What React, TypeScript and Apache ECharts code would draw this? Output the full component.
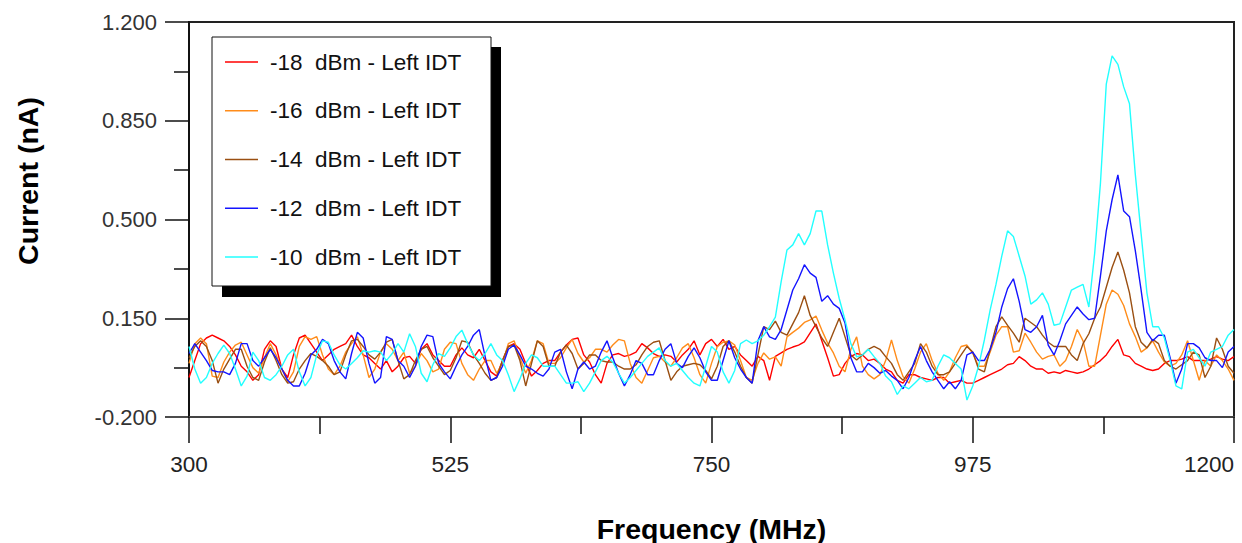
import React, { useEffect, useRef } from "react";
import * as echarts from "echarts";

// Frequency sweep (MHz), 5 MHz step
const FREQ: number[] = Array.from({ length: 181 }, (_, i) => 300 + 5 * i);

const SERIES_NAMES = [
  "-18  dBm - Left IDT",
  "-16  dBm - Left IDT",
  "-14  dBm - Left IDT",
  "-12  dBm - Left IDT",
  "-10  dBm - Left IDT",
];
const SERIES_COLORS = ["#ff0000", "#ff8c1a", "#9a4f12", "#1414ff", "#22ffff"];

const X_TICKS = [300, 525, 750, 975, 1200];
const Y_TICKS = [-0.2, 0.15, 0.5, 0.85, 1.2];

// Current (nA)
const RED = [
  -0.06, 0.0, 0.06, 0.08, 0.09, 0.08, 0.07, 0.05, 0.02, -0.02, -0.04, -0.07, -0.05, 0.04, 0.07, 0.05, -0.03, -0.06, 0.02, 0.08,
  0.09, 0.06, 0.03, 0.0, 0.02, 0.04, 0.05, 0.06, 0.09, 0.05, 0.02, 0.01, -0.01, -0.03, 0.0, -0.04, -0.02, 0.01, 0.015, -0.01,
  0.04, 0.06, 0.02, 0.0, -0.02, -0.02, 0.02, 0.045, 0.02, 0.01, 0.04, 0.0, -0.04, -0.055, 0.0, 0.05, 0.06, 0.04, -0.01, -0.055,
  -0.035, -0.01, 0.0, 0.0, 0.03, 0.055, 0.075, 0.08, 0.02, -0.005, -0.05, -0.08, -0.01, 0.02, 0.025, 0.015, 0.02, 0.03, 0.06, 0.045,
  0.025, 0.015, 0.02, 0.015, -0.005, 0.02, 0.04, 0.07, 0.02, 0.06, 0.075, 0.05, 0.075, 0.04, 0.05, 0.02, 0.0, -0.02, 0.015, 0.0,
  -0.07, 0.015, 0.027, 0.04, 0.048, 0.055, 0.066, 0.098, 0.13, 0.07, 0.01, -0.055, -0.05, -0.01, 0.015, 0.025, 0.02, 0.0, 0.005, -0.01,
  -0.03, -0.04, -0.07, -0.08, -0.05, -0.05, -0.06, -0.065, -0.07, -0.06, -0.06, -0.08, -0.075, -0.07, -0.08, -0.08, -0.07, -0.06, -0.05, -0.04,
  -0.03, -0.015, -0.01, 0.014, 0.0, -0.02, -0.03, -0.03, -0.045, -0.04, -0.045, -0.035, -0.04, -0.045, -0.04, -0.03, -0.015, 0.0, 0.02, 0.05,
  0.075, 0.02, 0.014, -0.01, -0.02, -0.03, -0.035, -0.03, -0.01, 0.0, 0.0, 0.005, 0.014, 0.0, 0.0, 0.0, 0.005, 0.014, 0.005, 0.0,
  0.014,
];

const ORANGE = [
  -0.01, 0.06, 0.08, 0.06, -0.055, -0.06, -0.005, 0.03, 0.055, 0.065, 0.02, -0.025, -0.045, 0.01, 0.06, 0.02, -0.03, -0.075, -0.04, 0.05,
  0.085, 0.075, 0.085, 0.02, -0.03, -0.05, -0.02, 0.03, 0.06, 0.085, 0.02, -0.06, -0.03, 0.03, 0.06, 0.04, 0.0, 0.03, -0.045, -0.02,
  0.025, 0.0, -0.04, -0.03, 0.04, 0.065, 0.06, -0.01, -0.05, -0.07, -0.03, 0.0, 0.0, -0.045, -0.01, 0.06, 0.07, 0.01, -0.045, 0.0,
  0.07, 0.06, -0.01, -0.01, 0.01, 0.045, 0.075, 0.025, -0.005, 0.01, 0.04, 0.04, 0.03, 0.055, 0.075, 0.07, -0.01, -0.06, -0.08, -0.035,
  0.01, 0.015, -0.005, -0.02, 0.01, 0.045, 0.06, 0.01, -0.05, -0.08, -0.01, 0.05, 0.065, 0.07, 0.055, 0.0, -0.06, -0.07, -0.01, 0.027,
  0.005, 0.013, -0.02, 0.084, 0.1, 0.115, 0.135, 0.144, 0.158, 0.108, 0.062, 0.027, -0.02, -0.04, 0.04, 0.084, -0.02, -0.05, -0.065, -0.05,
  0.0, 0.073, 0.0, -0.057, -0.08, -0.03, 0.03, 0.06, 0.0, -0.045, -0.07, -0.04, 0.01, 0.05, 0.055, 0.026, -0.02, -0.02, 0.03, 0.09,
  0.12, 0.12, 0.03, 0.035, 0.097, 0.065, 0.03, 0.005, 0.015, 0.02, -0.02, 0.0, 0.05, 0.11, 0.07, -0.02, -0.02, 0.09, 0.2, 0.25,
  0.235, 0.195, 0.13, 0.085, 0.03, 0.045, 0.07, 0.03, -0.005, -0.02, -0.01, 0.02, 0.07, 0.0, -0.07, 0.0, -0.02, 0.02, 0.0, -0.03,
  -0.07,
];

const BROWN = [
  0.01, 0.05, 0.07, 0.05, 0.0, -0.08, -0.03, 0.005, 0.04, 0.04, -0.02, -0.06, -0.07, -0.005, 0.045, 0.0, -0.05, -0.08, -0.075, -0.03,
  0.0, 0.025, 0.015, 0.0, -0.02, -0.05, -0.04, 0.02, 0.07, 0.075, 0.05, 0.02, 0.005, 0.03, 0.065, 0.075, 0.0, -0.065, -0.05, 0.0,
  0.04, 0.05, 0.01, -0.02, -0.05, -0.035, 0.01, 0.07, 0.065, 0.02, -0.01, -0.045, -0.07, -0.06, 0.0, 0.05, 0.055, 0.0, -0.09, -0.01,
  0.07, 0.05, -0.02, -0.02, 0.03, 0.055, 0.025, -0.03, -0.01, 0.02, 0.02, 0.0, -0.005, -0.005, -0.02, -0.03, -0.03, -0.015, 0.02, 0.05,
  0.065, 0.07, 0.0, -0.07, -0.04, -0.02, -0.015, -0.01, -0.015, -0.035, -0.065, -0.02, 0.05, 0.07, 0.03, -0.02, -0.06, -0.08, 0.02, 0.12,
  0.11, 0.14, 0.1, 0.09, 0.13, 0.17, 0.23, 0.16, 0.12, 0.08, 0.05, 0.1, 0.15, 0.084, 0.02, 0.002, 0.02, 0.04, 0.05, 0.04,
  0.014, -0.01, -0.05, -0.07, -0.04, -0.01, 0.06, 0.03, -0.02, -0.05, -0.05, -0.04, -0.01, 0.02, 0.05, 0.03, -0.03, -0.04, 0.04, 0.12,
  0.155, 0.125, 0.097, 0.065, 0.15, 0.135, 0.12, 0.09, 0.065, 0.05, 0.05, 0.05, 0.02, 0.0, 0.06, 0.095, 0.15, 0.19, 0.26, 0.33,
  0.385, 0.32, 0.24, 0.12, 0.065, 0.045, 0.075, 0.06, 0.0, -0.02, -0.03, -0.015, 0.0, 0.03, 0.02, -0.06, -0.02, 0.08, 0.04, -0.02,
  -0.045,
];

const BLUE = [
  0.025, 0.06, 0.03, 0.0, -0.035, -0.04, -0.04, -0.05, -0.01, 0.06, 0.06, 0.0, -0.02, 0.01, 0.04, 0.01, -0.03, -0.07, -0.09, -0.09,
  -0.045, 0.02, 0.04, 0.075, 0.06, 0.0, -0.04, -0.065, 0.025, 0.1, 0.08, -0.01, -0.08, -0.06, 0.085, 0.075, 0.0, -0.02, -0.06, -0.02,
  0.05, 0.09, 0.085, -0.01, -0.04, -0.065, -0.02, 0.02, 0.05, 0.09, 0.11, 0.015, -0.07, -0.06, -0.02, 0.04, 0.055, 0.02, -0.02, -0.03,
  -0.045, -0.055, -0.03, 0.03, 0.04, -0.04, -0.1, -0.03, -0.005, -0.03, -0.02, 0.03, 0.07, 0.01, -0.045, -0.09, -0.05, 0.0, -0.01, -0.05,
  -0.05, 0.0, 0.04, 0.06, -0.01, -0.025, 0.015, 0.045, 0.01, -0.04, -0.07, -0.07, 0.0, 0.07, 0.01, -0.03, -0.06, -0.08, 0.07, 0.12,
  0.084, 0.075, 0.11, 0.18, 0.25, 0.29, 0.34, 0.31, 0.295, 0.21, 0.23, 0.2, 0.185, 0.133, 0.01, -0.04, -0.04, -0.01, -0.025, -0.045,
  -0.035, -0.055, -0.07, -0.1, -0.06, 0.0, 0.05, 0.0, -0.04, -0.07, -0.1, -0.075, -0.1, -0.07, 0.02, 0.03, 0.0, 0.0, 0.04, 0.1,
  0.19, 0.255, 0.29, 0.21, 0.11, 0.1, 0.12, 0.16, 0.055, 0.02, 0.07, 0.13, 0.16, 0.19, 0.165, 0.145, 0.15, 0.3, 0.46, 0.57,
  0.658, 0.53, 0.51, 0.39, 0.25, 0.1, 0.07, 0.09, 0.09, 0.01, -0.08, -0.03, 0.06, 0.06, 0.045, 0.01, 0.0, 0.0, -0.025, 0.03,
  0.05,
];

const CYAN = [
  0.05, -0.03, -0.08, -0.06, -0.01, 0.025, 0.055, 0.025, -0.03, -0.09, -0.055, 0.03, 0.0, -0.06, -0.07, -0.05, -0.02, 0.02, 0.04, -0.04,
  -0.09, -0.06, 0.02, 0.07, 0.065, 0.02, -0.015, -0.03, -0.01, 0.01, 0.035, 0.03, 0.035, 0.03, 0.0, 0.025, 0.06, 0.03, 0.095, 0.05,
  -0.045, -0.075, -0.015, 0.025, 0.015, 0.045, 0.085, 0.108, 0.06, 0.02, 0.0, 0.025, 0.06, 0.02, 0.0, -0.05, -0.11, -0.065, -0.01, 0.02,
  0.01, -0.02, -0.02, -0.02, -0.05, -0.08, -0.08, -0.075, -0.11, -0.08, -0.04, 0.0, 0.015, -0.005, -0.045, -0.08, -0.06, -0.035, -0.01, 0.015,
  0.03, 0.045, 0.0, -0.02, -0.01, -0.035, -0.06, -0.08, -0.09, -0.02, 0.05, 0.03, -0.04, -0.08, -0.035, 0.06, 0.073, 0.06, 0.07, 0.09,
  0.12, 0.154, 0.28, 0.392, 0.41, 0.45, 0.41, 0.45, 0.53, 0.53, 0.41, 0.31, 0.22, 0.144, 0.06, 0.013, 0.02, 0.04, 0.014, -0.01,
  -0.055, -0.075, -0.12, -0.09, -0.1, -0.08, -0.06, -0.075, -0.07, -0.02, 0.02, 0.01, -0.01, -0.03, -0.14, -0.09, -0.02, 0.073, 0.18, 0.27,
  0.37, 0.46, 0.44, 0.37, 0.3, 0.2, 0.215, 0.24, 0.2, 0.125, 0.13, 0.19, 0.25, 0.26, 0.27, 0.19, 0.38, 0.63, 0.98, 1.08,
  1.05, 0.97, 0.91, 0.66, 0.45, 0.24, 0.12, 0.12, 0.08, 0.0, -0.09, -0.1, 0.03, 0.04, 0.01, -0.02, 0.03, 0.04, 0.05, 0.09,
  0.11,
];

const SERIES_VALUES = [RED, ORANGE, BROWN, BLUE, CYAN];

const FONT = '"Liberation Sans", Arial, Helvetica, sans-serif';

export default function App() {
  const ref = useRef<HTMLDivElement>(null);

  useEffect(() => {
    document.body.style.margin = "0";
    if (!ref.current) return;
    const chart = echarts.init(ref.current, null, { renderer: "svg" });

    const legendTop = 37;
    const legendLeft = 212;
    const legendW = 279;
    const legendH = 249;
    const rowGap = 48.75;
    const firstRow = 62;

    const graphics: any[] = [
      { type: "rect", shape: { x: legendLeft + 10, y: legendTop + 10, width: legendW, height: legendH + 1 }, style: { fill: "#000" }, z: 100 },
      { type: "rect", shape: { x: legendLeft, y: legendTop, width: legendW, height: legendH }, style: { fill: "#fff", stroke: "#111", lineWidth: 1 }, z: 101 },
      {
        type: "text",
        x: 28,
        y: 181,
        rotation: Math.PI / 2,
        style: { text: "Current (nA)", fill: "#000", fontSize: 28.5, fontWeight: "bold", fontFamily: FONT, align: "center", verticalAlign: "middle" },
        z: 102,
      },
    ];
    SERIES_NAMES.forEach((name, i) => {
      const y = firstRow + rowGap * i;
      graphics.push({
        type: "line",
        shape: { x1: 225, y1: y, x2: 258, y2: y },
        style: { stroke: SERIES_COLORS[i], lineWidth: 1.5 },
        z: 102,
      });
      graphics.push({
        type: "text",
        x: 270,
        y: y,
        style: { text: name, fill: "#111", fontSize: 22.5, fontFamily: FONT, verticalAlign: "middle", align: "left" },
        z: 102,
      });
    });

    chart.setOption({
      animation: false,
      backgroundColor: "#fff",
      grid: {
        left: 189, right: 8, top: 22, bottom: 126,
        outerBoundsMode: "none", containLabel: false,
        show: true, borderColor: "#222", borderWidth: 2, backgroundColor: "transparent",
      },
      xAxis: {
        type: "value",
        min: X_TICKS[0],
        max: X_TICKS[X_TICKS.length - 1],
        interval: X_TICKS[1] - X_TICKS[0],
        name: "Frequency (MHz)",
        nameLocation: "middle",
        nameGap: 97,
        nameTextStyle: { fontSize: 28.5, fontWeight: "bold", fontFamily: FONT, color: "#000" },
        axisLine: { show: true, onZero: false, lineStyle: { color: "#444", width: 2 } },
        axisTick: { show: true, inside: false, length: 26, lineStyle: { color: "#111", width: 1.5 } },
        minorTick: { show: true, splitNumber: 2, length: 17, lineStyle: { color: "#111", width: 1.5 } },
        splitLine: { show: false },
        axisLabel: {
          fontSize: 22.5, fontFamily: FONT, color: "#222", margin: 36,
          alignMaxLabel: "right",
          formatter: (v: number) => String(Math.round(v)),
        },
      },
      yAxis: {
        type: "value",
        min: Y_TICKS[0],
        max: Y_TICKS[Y_TICKS.length - 1],
        interval: 0.35,
        axisLine: { show: true, onZero: false, lineStyle: { color: "#111", width: 2 } },
        axisTick: { show: true, inside: false, length: 24, lineStyle: { color: "#111", width: 1.5 } },
        minorTick: { show: true, splitNumber: 2, length: 15, lineStyle: { color: "#111", width: 1.5 } },
        splitLine: { show: false },
        axisLabel: { fontSize: 22, fontFamily: FONT, color: "#333", margin: 32, formatter: (v: number) => v.toFixed(3) },
      },
      graphic: graphics,
      series: SERIES_NAMES.map((name, s) => ({
        name,
        type: "line",
        showSymbol: false,
        symbol: "none",
        lineStyle: { color: SERIES_COLORS[s], width: 1.4 },
        itemStyle: { color: SERIES_COLORS[s] },
        data: FREQ.map((f, i) => [f, SERIES_VALUES[s][i]]),
        clip: true,
      })),
    });

    return () => chart.dispose();
  }, []);

  return <div ref={ref} style={{ width: 1242, height: 543 }} />;
}
